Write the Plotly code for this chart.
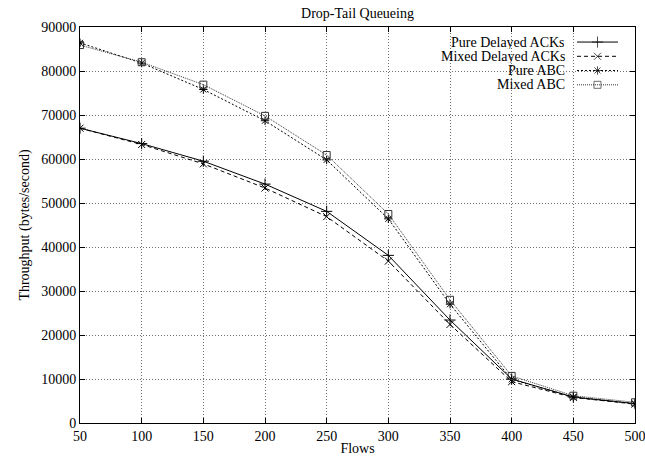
import plotly.graph_objects as go

flows = [50, 100, 150, 200, 250, 300, 350, 400, 450, 500]
pure_delayed = [67000, 63500, 59500, 54300, 48100, 38100, 23400, 10000, 5900, 4400]
mixed_delayed = [67000, 63300, 58900, 53400, 46900, 36800, 22400, 9400, 5800, 4300]
pure_abc = [86400, 81800, 75800, 68700, 59800, 46400, 27000, 9900, 5900, 4400]
mixed_abc = [85900, 82000, 76900, 69800, 60900, 47500, 28000, 10700, 6200, 4700]

names = ["Pure Delayed ACKs", "Mixed Delayed ACKs", "Pure ABC", "Mixed ABC"]
series = [pure_delayed, mixed_delayed, pure_abc, mixed_abc]
dashes = ["solid", "4px,3px", "2px,2px", "1px,1px"]
colors = ["#000000", "#000000", "#000000", "#333333"]
symbols = ["cross-thin-open", "x-thin-open", "asterisk-open", "square-open"]
sizes = [8, 7, 7, 7]

yticks = list(range(0, 90001, 10000))
FONT = "Liberation Serif, Times New Roman, serif"

fig = go.Figure()
for nm, ys, d, c, s, sz in zip(names, series, dashes, colors, symbols, sizes):
    fig.add_trace(go.Scatter(
        x=flows, y=ys, mode="lines+markers", name=nm, showlegend=False,
        line=dict(color=c, width=1, dash=d),
        marker=dict(symbol=s, size=sz, color=c, line=dict(color=c, width=1)),
    ))

# manual gnuplot-style legend (text on the left, sample on the right)
leg_y = [0.962, 0.926, 0.890, 0.854]
for i, (nm, d, c, s, sz) in enumerate(zip(names, dashes, colors, symbols, sizes)):
    fig.add_trace(go.Scatter(
        x=[0.8955, 0.9324, 0.9694], y=[leg_y[i]] * 3, xaxis="x2", yaxis="y2",
        mode="lines+markers", showlegend=False, hoverinfo="skip",
        line=dict(color=c, width=1, dash=d),
        marker=dict(symbol=s, size=[0, sz, 0], color=c, line=dict(color=c, width=1)),
    ))
    fig.add_annotation(x=0.8775, y=leg_y[i], xref="x2", yref="y2", text=nm,
                       showarrow=False, xanchor="right", yanchor="middle",
                       height=13, valign="middle",
                       font=dict(family=FONT, size=14, color="black"))

axis_common = dict(
    showline=True, linecolor="black", linewidth=1, mirror="ticks",
    ticks="inside", ticklen=5, tickcolor="black", tickwidth=1,
    showgrid=True, gridcolor="#707070", gridwidth=1, griddash="1px,2px",
    zeroline=False, automargin=False, ticklabeloverflow="allow",
    tickfont=dict(family=FONT, size=14, color="black"),
)

fig.update_layout(
    width=645, height=461,
    margin=dict(l=80, r=10, t=27, b=38),
    paper_bgcolor="white", plot_bgcolor="white",
    font=dict(family=FONT, size=14, color="black"),
    title=dict(text="Drop-Tail Queueing", x=0.5, xref="paper", xanchor="center",
               y=1 - 13 / 461, yref="container", yanchor="middle",
               font=dict(family=FONT, size=14, color="black")),
    xaxis=dict(range=[50, 500], tickvals=flows, ticktext=[str(v) for v in flows],
               title=dict(text="Flows", standoff=0, font=dict(family=FONT, size=14)),
               **axis_common),
    yaxis=dict(range=[0, 90000], tickvals=yticks, ticktext=[str(v) for v in yticks],
               title=dict(text="Throughput (bytes/second)", standoff=8,
                          font=dict(family=FONT, size=14)),
               **axis_common),
    xaxis2=dict(overlaying="x", range=[0, 1], visible=False, fixedrange=True),
    yaxis2=dict(overlaying="y", range=[0, 1], visible=False, fixedrange=True),
)

fig.write_html("out.html")
